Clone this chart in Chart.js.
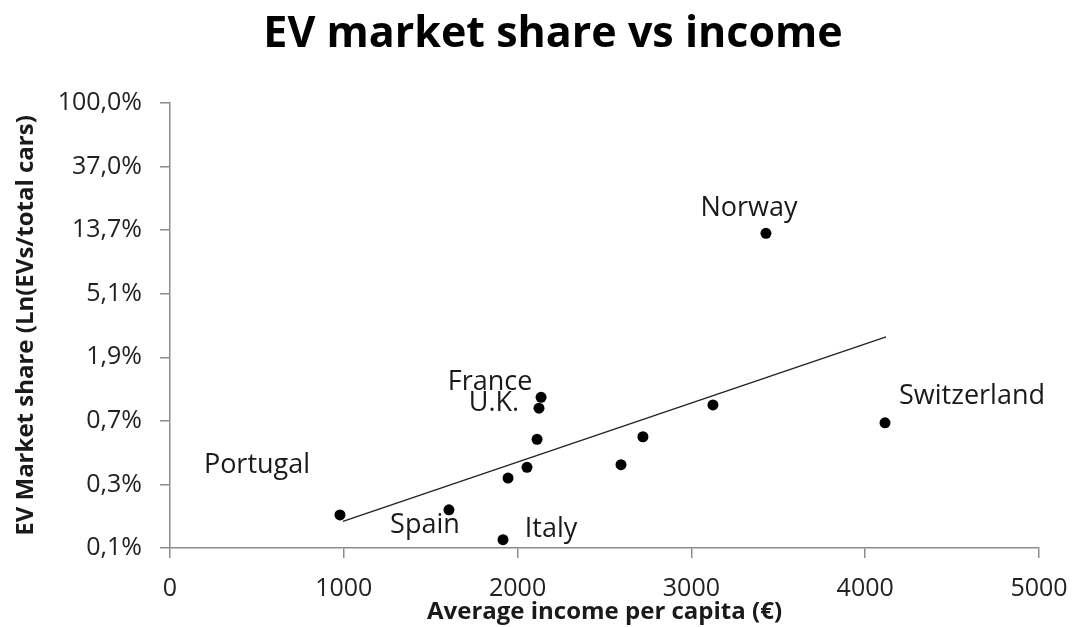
<!DOCTYPE html>
<html><head><meta charset="utf-8">
<script src="https://cdn.jsdelivr.net/npm/chart.js@4"></script>
<style>html,body{margin:0;padding:0;background:#fff}</style>
</head><body><canvas id="c" width="1075" height="627"></canvas>
<script>
const countries = ['Portugal','Spain','Italy','','','','U.K.','France','','','','Norway','Switzerland'];
const income = [978,1605,1916,1945,2054,2112,2123,2135,2595,2721,3124,3429,4114];
const lnShare = [-6.48,-6.40,-6.87,-5.90,-5.73,-5.29,-4.80,-4.63,-5.69,-5.25,-4.75,-2.05,-5.03];
const trendIncome = [995,4120];
const trendLnShare = [-6.58,-3.68];
const yTickLabels = ['0,1%','0,3%','0,7%','1,9%','5,1%','13,7%','37,0%','100,0%'];
const xTickStep = 1000;

const FONT = "'Open Sans', sans-serif";
const labelOffsets = {
  'Portugal':[-83,-50], 'Spain':[-24,15], 'Italy':[48,-10], 'U.K.':[-45,-5],
  'France':[-51,-15], 'Norway':[-17,-25], 'Switzerland':[87,-26]
};

const labelPlugin = {
  id:'countryLabels',
  afterLayout(chart){
    // the reference title sits slightly right of the canvas centre
    if (chart.titleBlock) { chart.titleBlock.left += 17; }
  },
  afterDatasetsDraw(chart){
    const ctx = chart.ctx;
    const meta = chart.getDatasetMeta(1);
    ctx.save();
    ctx.font = "27px " + FONT;
    ctx.fillStyle = '#1a1a1a';
    ctx.textAlign = 'center';
    ctx.textBaseline = 'middle';
    countries.forEach((name,i)=>{
      if(!name) return;
      const p = meta.data[i];
      const off = labelOffsets[name] || [0,-20];
      ctx.fillText(name, p.x + off[0], p.y + off[1]);
    });
    ctx.restore();
  }
};

const axisColor = '#8c8c8c';
new Chart(document.getElementById('c'), {
  type:'scatter',
  data:{
    datasets:[
      {
        label:'trend',
        data: trendIncome.map((x,i)=>({x, y: trendLnShare[i]})),
        showLine:true, pointRadius:0, borderColor:'#222', borderWidth:1.4, fill:false
      },
      {
        label:'countries',
        data: income.map((x,i)=>({x, y: lnShare[i]})),
        pointRadius:5.5, backgroundColor:'#000', borderWidth:0
      }
    ]
  },
  options:{
    responsive:false, devicePixelRatio:1, animation:false,
    layout:{padding:{left:50,right:36,top:0,bottom:0}},
    plugins:{
      legend:{display:false}, tooltip:{enabled:false},
      title:{display:true, text:'EV market share vs income', color:'#000',
        font:{family:FONT, size:43, weight:'bold'}, padding:{top:9,bottom:42.4}}
    },
    scales:{
      x:{
        type:'linear', min:0, max:5000,
        ticks:{stepSize:xTickStep, color:'#222', font:{family:FONT,size:25}, padding:16,
          callback:(v)=> String(v)},
        grid:{drawOnChartArea:false, drawTicks:true, tickLength:10, color:axisColor, lineWidth:1.5},
        border:{color:axisColor, width:1.5},
        title:{display:true, text:'Average income per capita (€)', color:'#1a1a1a',
          font:{family:FONT,size:24,weight:'bold'}, padding:{top:0,bottom:0}},
        afterFit(s){ s.height = 79; s.paddingLeft = 0; s.paddingRight = 0; }
      },
      y:{
        type:'linear', min:-7, max:0,
        ticks:{stepSize:1, color:'#222', font:{family:FONT,size:25}, padding:18,
          callback:(v)=> yTickLabels[Math.round(v+7)]},
        grid:{drawOnChartArea:false, drawTicks:true, tickLength:10, color:axisColor, lineWidth:1.5},
        border:{color:axisColor, width:1.5},
        title:{display:true, text:'EV Market share (Ln(EVs/total cars)', color:'#1a1a1a',
          font:{family:FONT,size:24,weight:'bold'}, padding:{top:-38.4,bottom:0}},
        afterFit(s){ s.width = 120; s.paddingTop = 0; s.paddingBottom = 0; }
      }
    }
  },
  plugins:[labelPlugin]
});
</script></body></html>
